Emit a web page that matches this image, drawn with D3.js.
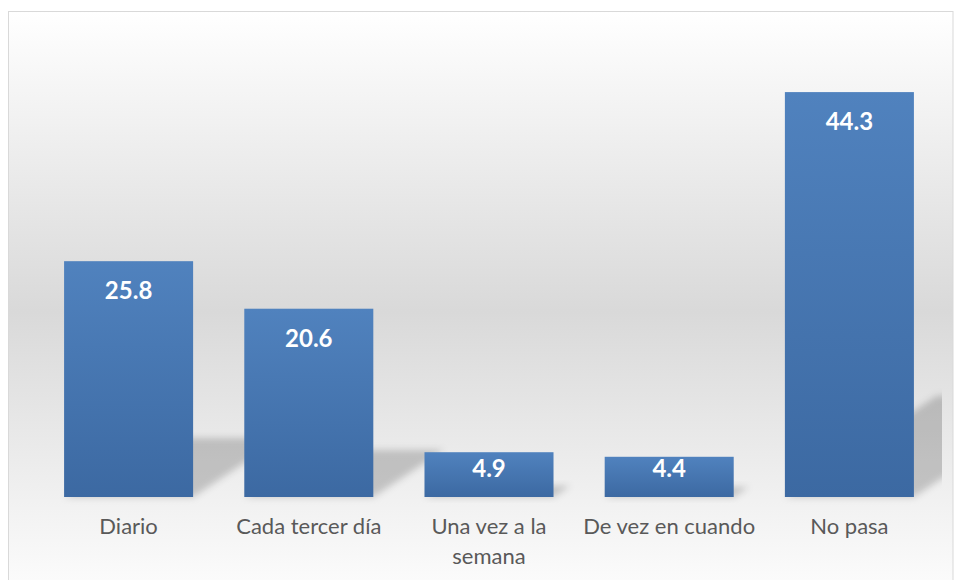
<!DOCTYPE html>
<html>
<head>
<meta charset="utf-8">
<script src="https://cdn.jsdelivr.net/npm/d3@7"></script>
<style>
  html, body { margin: 0; padding: 0; background: #ffffff; }
  svg { display: block; }
</style>
</head>
<body>
<svg id="chart" width="954" height="580"></svg>
<script>
// ---- data ----
const categories = ["Diario", "Cada tercer día", "Una vez a la semana", "De vez en cuando", "No pasa"];
const values = [25.8, 20.6, 4.9, 4.4, 44.3];
const yDomain = [0, 50];

// ---- layout ----
const W = 954, H = 580;
const frame = { x: 8.5, y: 11.5, w: 944.5, h: 600 };
const plot = { left: 38.5, right: 939.5, top: 40, bottom: 497 };

const svg = d3.select("#chart");
const defs = svg.append("defs");

// background gradient
const bg = defs.append("linearGradient").attr("id", "bgGrad")
  .attr("gradientUnits", "userSpaceOnUse")
  .attr("x1", 0).attr("y1", frame.y).attr("x2", 0).attr("y2", frame.y + frame.h);
bg.append("stop").attr("offset", "0%").attr("stop-color", "#ffffff");
bg.append("stop").attr("offset", "50%").attr("stop-color", "#d9d9d9");
bg.append("stop").attr("offset", "100%").attr("stop-color", "#ffffff");

// bar gradient
const bar = defs.append("linearGradient").attr("id", "barGrad")
  .attr("x1", 0).attr("y1", 0).attr("x2", 0).attr("y2", 1);
bar.append("stop").attr("offset", "0%").attr("stop-color", "#5082be");
bar.append("stop").attr("offset", "100%").attr("stop-color", "#3c69a2");

// shadow blur
const f = defs.append("filter").attr("id", "blur")
  .attr("x", "-50%").attr("y", "-50%").attr("width", "200%").attr("height", "200%");
f.append("feGaussianBlur").attr("stdDeviation", 3.5);

defs.append("clipPath").attr("id", "plotClip")
  .append("rect").attr("x", frame.x).attr("y", frame.y).attr("width", 942 - frame.x).attr("height", 510);

svg.append("rect")
  .attr("x", frame.x).attr("y", frame.y)
  .attr("width", frame.w).attr("height", frame.h)
  .attr("fill", "url(#bgGrad)")
  .attr("stroke", "#d9d9d9").attr("stroke-width", 1);

// ---- scales ----
const x = d3.scaleBand().domain(categories)
  .range([plot.left, plot.right])
  .paddingInner(0.284).paddingOuter(0.142);
const y = d3.scaleLinear().domain(yDomain).range([plot.bottom, plot.top]);

const data = categories.map((c, i) => ({ c, v: values[i] }));

// ---- perspective shadows ----
const shadowG = svg.append("g").attr("clip-path", "url(#plotClip)");
shadowG.selectAll("path").data(data).join("path")
  .attr("d", d => {
    const x0 = x(d.c), x1 = x(d.c) + x.bandwidth();
    const B = y(0), h = y(0) - y(d.v);
    const dy = 0.25 * h, dx = 1.5 * dy;
    return `M${x0},${B}L${x1},${B}L${x1 + dx},${B - dy}L${x0 + dx},${B - dy}Z`;
  })
  .attr("fill", "#000").attr("fill-opacity", 0.19)
  .attr("filter", "url(#blur)");

// ---- bars ----
svg.append("g").selectAll("rect").data(data).join("rect")
  .attr("x", d => x(d.c))
  .attr("y", d => y(d.v))
  .attr("width", x.bandwidth())
  .attr("height", d => y(0) - y(d.v))
  .attr("fill", "url(#barGrad)");

// ---- value labels ----
svg.append("g").selectAll("text").data(data).join("text")
  .attr("x", d => x(d.c) + x.bandwidth() / 2)
  .attr("y", d => Math.min(y(d.v) + 38, y(0) - 20))
  .attr("text-anchor", "middle")
  .attr("font-family", "Lato, 'Open Sans', sans-serif")
  .attr("font-weight", "bold")
  .attr("font-size", 24)
  .attr("fill", "#ffffff")
  .text(d => d.v.toFixed(1));

// ---- category axis ----
const axis = d3.axisBottom(x).tickSize(0).tickPadding(0);
const ag = svg.append("g").attr("transform", `translate(0,${plot.bottom})`).call(axis);
ag.select(".domain").remove();
ag.selectAll(".tick text")
  .attr("font-family", "Lato, 'Open Sans', sans-serif")
  .attr("font-size", 22)
  .attr("fill", "#595959")
  .attr("dy", null)
  .attr("y", 37)
  .each(function(d) {
    const t = d3.select(this);
    const words = d.split(" ");
    const maxW = x.step();
    t.text(null);
    let line = [], tspan = t.append("tspan").attr("x", 0).attr("y", 37);
    let lineNo = 0;
    for (const w of words) {
      line.push(w);
      tspan.text(line.join(" "));
      if (tspan.node().getComputedTextLength() > maxW && line.length > 1) {
        line.pop();
        tspan.text(line.join(" "));
        line = [w];
        lineNo++;
        tspan = t.append("tspan").attr("x", 0).attr("y", 37 + lineNo * 30).text(w);
      }
    }
  });
</script>
</body>
</html>
